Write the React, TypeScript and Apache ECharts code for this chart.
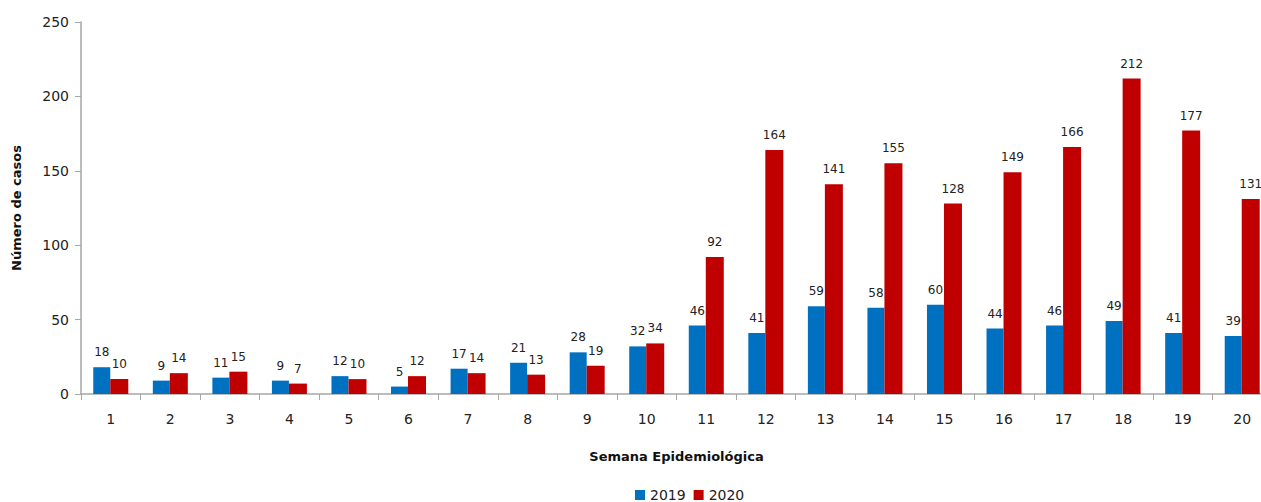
import React, { useEffect, useRef } from "react";
import * as echarts from "echarts";

const weeks = ["1","2","3","4","5","6","7","8","9","10","11","12","13","14","15","16","17","18","19","20"];
const cases2019 = [18, 9, 11, 9, 12, 5, 17, 21, 28, 32, 46, 41, 59, 58, 60, 44, 46, 49, 41, 39];
const cases2020 = [10, 14, 15, 7, 10, 12, 14, 13, 19, 34, 92, 164, 141, 155, 128, 149, 166, 212, 177, 131];

const FONT = "DejaVu Sans";

export default function App() {
  const ref = useRef<HTMLDivElement>(null);
  useEffect(() => {
    const chart = echarts.init(ref.current!, null, { renderer: "svg" });
    const label = {
      show: true,
      position: "top" as const,
      color: "#222",
      fontSize: 12,
      fontFamily: FONT,
      distance: 9,
    };
    chart.setOption({
      animation: false,
      backgroundColor: "#fff",
      textStyle: { fontFamily: FONT },
      grid: { left: 81, right: 0, top: 22, bottom: 108, containLabel: false },
      legend: {
        top: 483,
        left: 630,
        itemWidth: 10,
        itemHeight: 10,
        itemGap: 8,
        icon: "rect",
        textStyle: { fontSize: 14, color: "#222", fontFamily: FONT },
        data: ["2019", "2020"],
      },
      xAxis: {
        type: "category",
        data: weeks,
        name: "Semana Epidemiológica",
        nameLocation: "middle",
        nameGap: 56,
        nameTextStyle: { fontSize: 13, fontWeight: "bold", color: "#111", fontFamily: FONT },
        axisLine: { lineStyle: { color: "#a6a6a6", width: 1.5 } },
        axisTick: { show: true, length: 6, lineStyle: { color: "#a6a6a6" } },
        axisLabel: { fontSize: 14, color: "#222", margin: 18, fontFamily: FONT },
      },
      yAxis: {
        type: "value",
        min: 0,
        max: 250,
        interval: 50,
        name: "Número de casos",
        nameLocation: "middle",
        nameGap: 58,
        nameTextStyle: { fontSize: 13, fontWeight: "bold", color: "#111", fontFamily: FONT },
        splitLine: { show: false },
        axisLine: { show: true, lineStyle: { color: "#a6a6a6", width: 1.5 } },
        axisTick: { show: true, length: 6, lineStyle: { color: "#a6a6a6" } },
        axisLabel: { fontSize: 14, color: "#222", margin: 12, fontFamily: FONT },
      },
      series: [
        {
          name: "2019",
          type: "bar",
          data: cases2019,
          barWidth: 17,
          barGap: "0%",
          itemStyle: { color: "#0070C0" },
          label,
        },
        {
          name: "2020",
          type: "bar",
          data: cases2020,
          barWidth: 18,
          barGap: "0%",
          itemStyle: { color: "#C00000" },
          label,
        },
      ],
    });
    return () => chart.dispose();
  }, []);
  return (
    <div style={{ position: "fixed", left: 0, top: 0, width: 1261, height: 502, overflow: "hidden" }}>
      <div ref={ref} style={{ width: 1272, height: 502 }} />
    </div>
  );
}
